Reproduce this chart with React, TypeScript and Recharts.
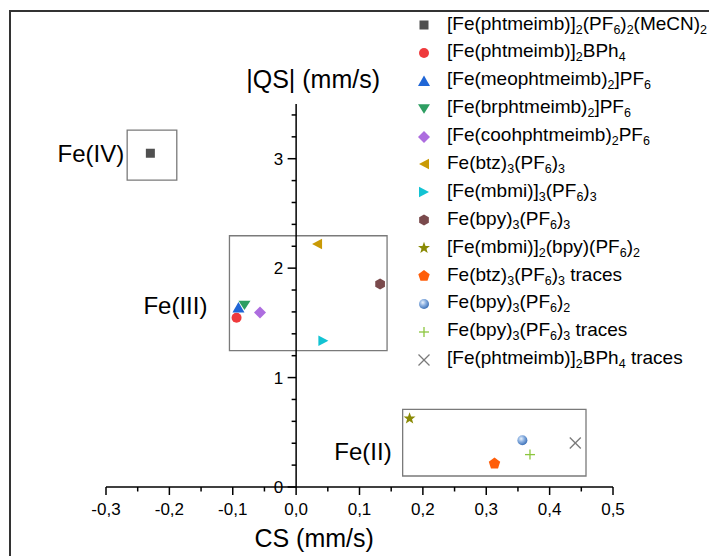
import React from "react"
import { ScatterChart, Scatter, XAxis, YAxis, ReferenceLine, ReferenceArea } from "recharts"

const FONT = "'Liberation Sans', Arial, Helvetica, sans-serif"

// compounds in legend order ("_x" marks a subscript)
const compoundLabels = [
	"[Fe(phtmeimb)]_2(PF_6)_2(MeCN)_2",
	"[Fe(phtmeimb)]_2BPh_4",
	"[Fe(meophtmeimb)_2]PF_6",
	"[Fe(brphtmeimb)_2]PF_6",
	"[Fe(coohphtmeimb)_2PF_6",
	"Fe(btz)_3(PF_6)_3",
	"[Fe(mbmi)]_3(PF_6)_3",
	"Fe(bpy)_3(PF_6)_3",
	"[Fe(mbmi)]_2(bpy)(PF_6)_2",
	"Fe(btz)_3(PF_6)_3 traces",
	"Fe(bpy)_3(PF_6)_2",
	"Fe(bpy)_3(PF_6)_3 traces",
	"[Fe(phtmeimb)]_2BPh_4 traces",
]
// isomer shift (CS) and |quadrupole splitting| (QS), mm/s
const csValues = [-0.23, -0.094, -0.091, -0.0815, -0.057, 0.033, 0.043, 0.1325, 0.179, 0.313, 0.357, 0.369, 0.4405]
const qsValues = [3.05, 1.546, 1.64, 1.66, 1.595, 2.22, 1.336, 1.855, 0.626, 0.214, 0.427, 0.296, 0.402]

// marker styles
const markerKinds = ["square", "circle", "triUp", "triDown", "diamond", "triLeft", "triRight", "hexagon", "star", "pentagon", "sphere", "plus", "cross"]
const markerColors = ["#505050", "#ef3a3c", "#1f66d6", "#2e9e62", "#ad6ddf", "#c99a06", "#12c3d3", "#7a4a4c", "#8a8a05", "#ff5e0a", "#5a8ccc", "#8cc63e", "#7a7a7a"]

// oxidation state regions
const regionLabels = ["Fe(IV)", "Fe(III)", "Fe(II)"]
const regionCs = [[-0.2666, -0.1883], [-0.1052, 0.1435], [0.1681, 0.4574]]
const regionQs = [[2.805, 3.262], [1.2455, 2.296], [0.1005, 0.71]]
const regionLabelGap = [3, 22, 11]
const regionLabelDy = [-2, 12, 9]

// axis ticks
const xTicks = [-0.3, -0.25, -0.2, -0.15, -0.1, -0.05, 0, 0.05, 0.1, 0.15, 0.2, 0.25, 0.3, 0.35, 0.4, 0.45, 0.5]
const yTicks = [0, 0.2, 0.4, 0.6, 0.8, 1, 1.2, 1.4, 1.6, 1.8, 2, 2.2, 2.4, 2.6, 2.8, 3, 3.2, 3.4]
const yLabels = [0, 1, 2, 3]

const poly = (cx: number, cy: number, n: number, r: number, rot: number) =>
	Array.from({ length: n }, (_, k) => {
		const a = ((rot + (360 / n) * k) * Math.PI) / 180
		return `${cx + r * Math.cos(a)},${cy + r * Math.sin(a)}`
	}).join(" ")

const starPts = (cx: number, cy: number, ro: number, ri: number) =>
	Array.from({ length: 10 }, (_, k) => {
		const a = ((-90 + 36 * k) * Math.PI) / 180
		const r = k % 2 === 0 ? ro : ri
		return `${cx + r * Math.cos(a)},${cy + r * Math.sin(a)}`
	}).join(" ")

const Marker = ({ kind, color, cx, cy, gid }: { kind: string; color: string; cx: number; cy: number; gid: string }) => {
	switch (kind) {
		case "square":
			return <rect x={cx - 4.5} y={cy - 4.5} width={9} height={9} fill={color} />
		case "circle":
			return <circle cx={cx} cy={cy} r={5} fill={color} />
		case "triUp":
			return <polygon points={`${cx},${cy - 5.5} ${cx + 6},${cy + 5} ${cx - 6},${cy + 5}`} fill={color} />
		case "triDown":
			return <polygon points={`${cx - 6},${cy - 4.7} ${cx + 6},${cy - 4.7} ${cx},${cy + 4.7}`} fill={color} />
		case "triLeft":
			return <polygon points={`${cx - 5},${cy} ${cx + 5},${cy - 5.3} ${cx + 5},${cy + 5.3}`} fill={color} />
		case "triRight":
			return <polygon points={`${cx + 5},${cy} ${cx - 5},${cy - 5.3} ${cx - 5},${cy + 5.3}`} fill={color} />
		case "diamond":
			return <polygon points={poly(cx, cy, 4, 6, -90)} fill={color} />
		case "hexagon":
			return <polygon points={poly(cx, cy, 6, 5.6, -90)} fill={color} />
		case "pentagon":
			return <polygon points={poly(cx, cy, 5, 6, -90)} fill={color} />
		case "star":
			return <polygon points={starPts(cx, cy, 6.3, 2.6)} fill={color} />
		case "sphere":
			return (
				<g>
					<defs>
						<radialGradient id={gid} cx="0.38" cy="0.35" r="0.65">
							<stop offset="0%" stopColor="#eaf2fc" />
							<stop offset="45%" stopColor="#8fb3e2" />
							<stop offset="100%" stopColor="#3f73b8" />
						</radialGradient>
					</defs>
					<circle cx={cx} cy={cy} r={5} fill={`url(#${gid})`} />
				</g>
			)
		case "plus":
			return (
				<g stroke={color} strokeWidth={1.3}>
					<line x1={cx - 5} y1={cy} x2={cx + 5} y2={cy} />
					<line x1={cx} y1={cy - 5} x2={cx} y2={cy + 5} />
				</g>
			)
		default:
			return (
				<g stroke={color} strokeWidth={1.3}>
					<line x1={cx - 5.5} y1={cy - 5.5} x2={cx + 5.5} y2={cy + 5.5} />
					<line x1={cx - 5.5} y1={cy + 5.5} x2={cx + 5.5} y2={cy - 5.5} />
				</g>
			)
	}
}

// render "_x" as subscripts
const Formula = ({ text }: { text: string }) => {
	const parts = text.split(/_(\d)/)
	return (
		<>
			{parts.map((p, i) =>
				i % 2 === 1 ? (
					<span key={i} style={{ fontSize: 12.5, position: "relative", top: 4 }}>
						{p}
					</span>
				) : (
					<span key={i}>{p}</span>
				),
			)}
		</>
	)
}

const XTick = (props: any) => {
	const { x, y, payload } = props
	const v = payload.value as number
	const major = Math.abs(v * 10 - Math.round(v * 10)) < 1e-6
	const label = (Math.abs(v) < 1e-9 ? 0 : v).toFixed(1).replace(".", ",")
	return (
		<g>
			<line x1={x} y1={y} x2={x} y2={y + (major ? 8 : 4.5)} stroke="#000" strokeWidth={1.5} />
			{major && (
				<text x={x} y={y + 28} textAnchor="middle" fontSize={17} fontFamily={FONT} fill="#000">
					{label}
				</text>
			)}
		</g>
	)
}

// vertical axis drawn at CS = 0
const YAxisLine = (props: any) => {
	const { x1, y1, y2 } = props
	const top = Math.min(y1, y2)
	const bottom = Math.max(y1, y2)
	return (
		<g>
			<line x1={x1} y1={bottom} x2={x1} y2={top} stroke="#000" strokeWidth={1.5} />
			<text x={x1 + 17} y={top - 16} textAnchor="middle" fontSize={25} fontFamily={FONT} fill="#000">
				|QS| (mm/s)
			</text>
			<text x={x1 + 18} y={bottom + 60} textAnchor="middle" fontSize={25} fontFamily={FONT} fill="#000">
				CS (mm/s)
			</text>
		</g>
	)
}

const makeYTick = (value: number) => (props: any) => {
	const { x1, y1 } = props
	const major = yLabels.includes(value)
	return (
		<g>
			<line x1={x1 - (major ? 8.5 : 4.5)} y1={y1} x2={x1} y2={y1} stroke="#000" strokeWidth={1.5} />
			{major && (
				<text x={x1 - 13} y={y1 + 6} textAnchor="end" fontSize={17} fontFamily={FONT} fill="#000">
					{value}
				</text>
			)}
		</g>
	)
}

const makeRegionLabel = (i: number) => (props: any) => {
	const vb = props.viewBox
	return (
		<text
			x={vb.x - regionLabelGap[i]}
			y={vb.y + vb.height / 2 + regionLabelDy[i] + 8.6}
			textAnchor="end"
			fontSize={24}
			fontFamily={FONT}
			fill="#000">
			{regionLabels[i]}
		</text>
	)
}

export default function App() {
	return (
		<div style={{ position: "absolute", left: 0, top: 0, width: 709, height: 556, overflow: "hidden", background: "#fff" }}>
			{/* outer frame */}
			<div
				style={{
					position: "absolute",
					left: 9,
					top: 10,
					width: 700,
					height: 546,
					borderTop: "2px solid #333",
					borderLeft: "2px solid #333",
				}}
			/>
			<div style={{ position: "absolute", left: 0, top: 0 }}>
				<ScatterChart width={709} height={556} margin={{ top: 104, right: 96, left: 106, bottom: 0 }}>
					<XAxis
						type="number"
						dataKey="x"
						domain={[-0.3, 0.5]}
						ticks={xTicks}
						interval={0}
						height={69}
						tickSize={0}
						tickMargin={0}
						tickLine={false}
						axisLine={{ stroke: "#000", strokeWidth: 1.5 }}
						tick={<XTick />}
					/>
					<YAxis type="number" dataKey="y" domain={[0, 3.5]} hide />
					{regionLabels.map((name, i) => (
						<ReferenceArea
							key={name}
							x1={regionCs[i][0]}
							x2={regionCs[i][1]}
							y1={regionQs[i][0]}
							y2={regionQs[i][1]}
							fill="none"
							fillOpacity={0}
							stroke="#7a7a7a"
							strokeWidth={1.3}
							label={{ content: makeRegionLabel(i) }}
						/>
					))}
					<ReferenceLine
						segment={[
							{ x: 0, y: 0 },
							{ x: 0, y: 3.5 },
						]}
						shape={YAxisLine}
					/>
					{yTicks.map((v) => (
						<ReferenceLine
							key={v}
							segment={[
								{ x: 0, y: v },
								{ x: 0, y: v },
							]}
							shape={makeYTick(v)}
						/>
					))}
					{compoundLabels.map((name, i) => (
						<Scatter
							key={name}
							name={name}
							data={[{ x: csValues[i], y: qsValues[i] }]}
							isAnimationActive={false}
							shape={(p: any) => (
								<Marker kind={markerKinds[i]} color={markerColors[i]} cx={p.cx} cy={p.cy} gid={`sph-${i}`} />
							)}
						/>
					))}
				</ScatterChart>
			</div>
			{/* legend */}
			<div style={{ position: "absolute", left: 414, top: 11, fontFamily: FONT, fontSize: 19, color: "#000" }}>
				{compoundLabels.map((name, i) => (
					<div key={name} style={{ display: "flex", alignItems: "center", height: 27.9, lineHeight: "27.9px", whiteSpace: "nowrap" }}>
						<svg width={20} height={20} style={{ flex: "none" }}>
							<Marker kind={markerKinds[i]} color={markerColors[i]} cx={10} cy={10} gid={`lg-sph-${i}`} />
						</svg>
						<span style={{ marginLeft: 13 }}>
							<Formula text={name} />
						</span>
					</div>
				))}
			</div>
		</div>
	)
}
